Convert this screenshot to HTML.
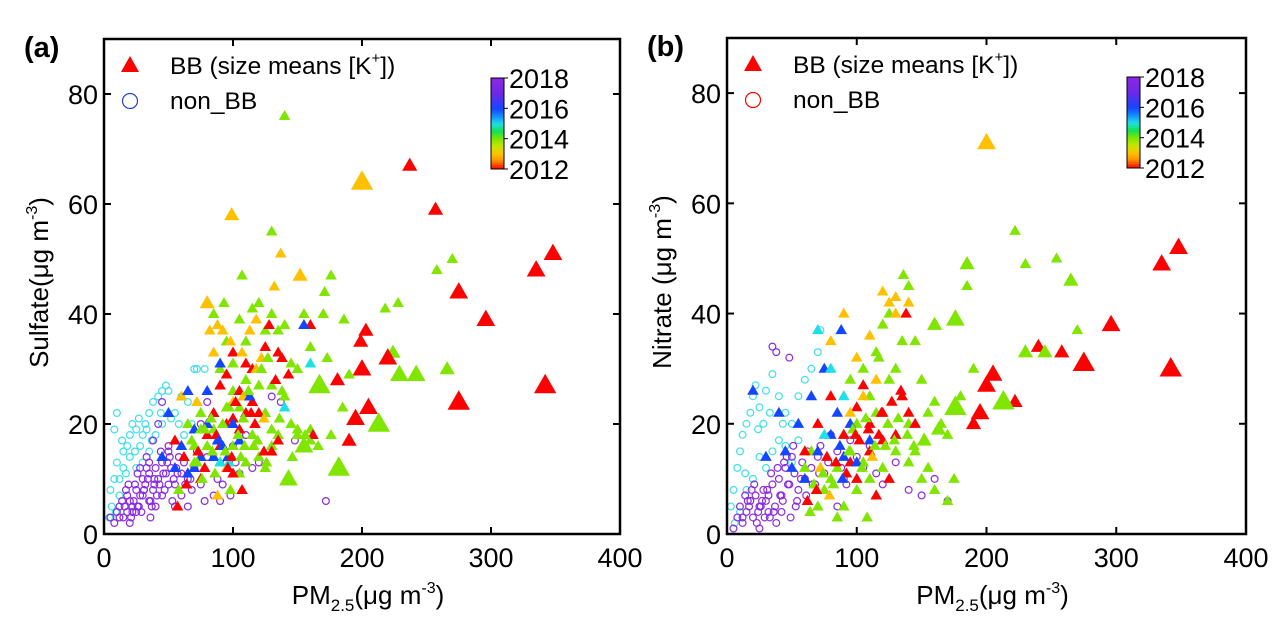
<!DOCTYPE html>
<html><head><meta charset="utf-8"><style>
body{margin:0;background:#fff;}
svg{display:block;font-family:"Liberation Sans",Arial,sans-serif;}
</style></head><body>
<svg id="chart" width="1282" height="633" viewBox="0 0 1282 633"></svg>
<script>
// ---- Panel (a) data: Sulfate vs PM2.5 ----
const aBBx=[200,237,257,335,348,275,296,342,275,205,195,190,213,182,143,155,167,229,242,266,258,270,224,220,203,199,200,181,140,99,130,137,152,132,107,171,176,218,228,186,80,93,
85,95,100,105,110,115,120,125,130,135,140,145,150,155,160,165,170,90,100,110,120,125,130,140,150,160,105,95,85,75,70,65,80,90,100,110,115,120,130,135,145,150,160,98,105,125,190,185,173,60,70,75,55,
100,110,115,125,128,135,138,143,90,95,105,110,115,120,95,100,105,110,85,80,75,90,100,107,130,135,162,160,57,65,88,124,
82,88,92,98,107,113,118,122,118,85,72,60,100,108,95,113,155,
50,65,80,90,60,70,75,80,88,92,96,100,105,45,55,70,85,90,97,
140,160,75,130,
62,68,73,78,83,87,92,97,102,108,112,117,122,127,133,138,65,72,78,84,89,94,99,104,109,114,119,124,58,64,76,86,96,106,116,126,136,146,156,166,176];
const aBBy=[64,67,59,48,51,44,39,27,24,23,21,17,20,12,10,16,27,29,29,30,48,50,33,32,37,35,30,28,76,58,55,51,47,45,47,44,47,41,42,39,42,42,
40,35,31,39,35,41,42,37,40,37,38,31,30,40,34,27,40,30,26,28,27,22,19,25,19,17,23,23,19,22,16,20,16,13,16,13,18,14,16,18,20,18,19,8,11,12,29,23,32,16,13,10,17,
33,31,30,34,38,33,32,29,27,29,26,25,24,22,20,21,19,22,22,18,14,16,11,8,15,17,18,38,5,11,7,21,
37,38,37,35,33,37,39,32,30,33,24,25,24,25,12,25,38,
22,26,26,31,16,19,14,20,17,16,14,20,17,14,12,12,14,13,13,
23,31,19,27,
14,17,15,19,21,18,20,23,24,21,26,20,30,32,28,26,11,13,12,15,17,15,14,18,16,22,17,15,8,9,10,11,12,14,16,13,21,14,18,16,18];
const aBByr=[2013,2012,2012,2012,2012,2012,2012,2012,2012,2012,2012,2012,2014,2014,2014,2014,2014,2014,2014,2014,2014,2014,2014,2012,2012,2012,2012,2012,2014,2013,2014,2013,2013,2013,2014,2014,2014,2014,2014,2014,2013,2014,
2014,2014,2014,2014,2014,2014,2014,2014,2014,2014,2014,2014,2014,2014,2014,2014,2014,2014,2014,2014,2014,2014,2014,2014,2014,2014,2014,2014,2014,2014,2014,2014,2014,2014,2014,2014,2014,2014,2014,2014,2014,2014,2014,2014,2014,2014,2014,2014,2014,2014,2014,
2012,2012,2012,2012,2012,2012,2012,2012,2012,2012,2012,2012,2012,2012,2012,2012,2012,2012,2012,2012,2012,2012,2012,2012,2012,2012,2012,2012,2012,2012,2012,2012,
2013,2013,2013,2013,2013,2013,2013,2013,2013,2013,2013,2013,2013,2013,2013,2013,2013,
2016,2016,2016,2016,2016,2016,2016,2016,2016,2016,2016,2016,2016,2016,2016,2016,2016,2016,2016,
2015,2015,2015,2015,
2014,2014,2012,2014,2012,2014,2014,2012,2014,2014,2012,2014,2014,2012,2014,2014,2012,2014,2016,2014,2012,2014,2016,2014,2012,2014,2014,2012,2014,2012,2014,2012,2014,2014,2012,2014,2014,2014,2014,2014,2014];
const aBBk=[4,2,2,3,3,3,3,4,4,3,3,2,4,4,3,3,4,3,3,2,1,1,2,3,2,2,3,2,1,2,1,1,2,1,1,1,1,1,1,1,2,1];
const aNBx=[8,10,5,8,10,12,15,18,20,22,25,28,30,32,35,38,42,45,48,50,15,12,20,25,30,35,40,45,55,60,65,70,72,78,58,62,68,6,4,9,14,17,24,27,33,37,44,52,
5,8,10,12,15,18,20,22,25,28,30,32,35,38,40,42,45,48,50,52,55,58,60,62,65,68,70,72,75,78,80,85,88,90,95,100,105,110,115,120,130,137,148,172,25,20,35,40,45,50,55,28,33,38,42,45,36,60,65,75,80,92,98,102,
14,17,22,24,27,30,33,36,39,43,47,51,54,57,12,16,19,23,26,29,31,34,37,41,44,49,53,18,21,26,31,35,39,46,50,56,63,67,71];
const aNBy=[19,22,8,10,13,10,15,16,18,20,19,16,18,20,22,24,25,26,27,26,12,7,14,12,13,15,18,20,22,25,24,30,30,30,20,18,20,5,3,4,17,11,15,21,19,17,22,21,
3,2,4,5,3,4,6,5,8,7,10,9,11,8,12,10,13,11,15,12,9,14,11,13,10,8,12,15,9,6,14,7,10,6,13,16,11,18,12,13,25,24,17,6,4,2,6,5,7,9,5,12,14,17,20,24,3,7,5,20,24,9,7,13,
6,8,4,9,5,7,12,6,10,9,8,14,10,11,3,5,9,6,11,4,8,10,5,7,15,13,6,7,3,5,8,13,9,11,16,12,9,10];
const aNByr=[2015,2015,2015,2015,2015,2015,2015,2015,2015,2015,2015,2015,2015,2015,2015,2015,2015,2015,2015,2015,2015,2015,2015,2015,2015,2015,2015,2015,2015,2015,2015,2015,2015,2015,2015,2015,2015,2015,2015,2015,2015,2015,2015,2015,2015,2015,2015,2015];

// ---- Panel (b) data: Nitrate vs PM2.5 ----
const bBBx=[200,348,335,296,342,275,240,258,222,205,200,195,190,213,176,222,254,265,230,185,176,270,245,230,160,163,152,140,136,130,117,
85,90,95,100,105,110,115,120,125,130,135,140,145,150,155,160,165,170,180,185,190,100,110,120,130,140,150,160,170,95,105,115,125,135,145,155,80,70,75,90,60,65,175,108,85,
60,70,80,90,100,110,120,130,135,140,145,100,110,120,95,115,125,105,138,
80,90,100,110,120,125,130,105,95,115,140,
20,40,55,65,75,88,50,60,70,80,90,100,110,85,95,45,30,
70,80,75,90,
62,67,72,77,82,87,92,97,102,107,112,117,122,127,132,64,69,74,79,84,89,94,99,104,109,114,119,124,129,134,139,144];
const bBBy=[71,52,49,38,30,31,34,33,24,29,27,22,20,24,23,55,50,46,49,49,39,37,33,33,38,19,17,45,47,43,32,
12,18,15,20,13,25,22,38,40,30,35,20,35,28,22,24,20,18,25,45,30,8,10,12,15,13,10,8,6,28,30,33,28,25,15,12,10,5,8,5,12,15,10,3,3,
15,20,25,18,23,20,22,18,25,22,20,10,15,17,13,7,10,27,40,
35,40,32,36,44,42,40,25,22,28,42,
26,22,20,25,30,37,12,10,15,18,14,13,17,22,20,15,14,
37,30,18,25,
6,9,12,14,9,16,11,19,17,21,14,18,16,24,21,4,8,11,7,13,10,15,18,12,19,16,22,20,17,26,18,16];
const bBByr=[2013,2012,2012,2012,2012,2012,2012,2012,2012,2012,2012,2012,2012,2014,2014,2014,2014,2014,2014,2014,2014,2014,2014,2014,2014,2014,2014,2014,2014,2013,2014,
2014,2014,2014,2014,2014,2014,2014,2014,2014,2014,2014,2014,2014,2014,2014,2014,2014,2014,2014,2014,2014,2014,2014,2014,2014,2014,2014,2014,2014,2014,2014,2014,2014,2014,2014,2014,2014,2014,2014,2014,2014,2014,2014,2014,2014,
2012,2012,2012,2012,2012,2012,2012,2012,2012,2012,2012,2012,2012,2012,2012,2012,2012,2012,2012,
2013,2013,2013,2013,2013,2013,2013,2013,2013,2013,2013,
2016,2016,2016,2016,2016,2016,2016,2016,2016,2016,2016,2016,2016,2016,2016,2016,2016,
2015,2015,2015,2015,
2012,2014,2013,2012,2014,2016,2012,2014,2012,2014,2013,2012,2014,2012,2014,2014,2012,2014,2013,2012,2016,2014,2012,2014,2012,2014,2012,2014,2014,2012,2014,2014];
const bBBk=[3,3,3,3,4,4,2,2,2,3,3,3,2,4,4,1,1,2,1,2,3,1,2,2,2,2,2,1,1,1,1];
const bNBx=[5,8,10,12,15,18,20,22,25,28,30,35,40,45,50,55,60,65,70,72,10,15,20,25,30,35,40,45,50,55,6,3,14,24,33,43,
5,8,10,12,15,18,20,22,25,28,30,32,35,38,40,42,45,48,50,52,55,58,60,62,65,68,70,72,75,78,80,85,88,90,95,100,105,110,115,120,130,140,150,160,170,35,38,48,25,33,42,85,92,
14,17,21,24,27,31,34,37,41,44,47,51,54,57,12,16,19,23,26,29,32,36,39,43,46,49,53,61,66,71];
const bNBy=[8,12,15,18,20,22,25,27,23,20,26,29,25,22,20,25,28,30,33,37,4,8,10,14,12,15,17,16,13,17,2,5,11,19,22,20,
1,3,5,2,4,6,3,7,5,8,6,4,9,2,10,7,12,9,14,11,8,13,10,15,12,9,14,16,11,13,18,15,12,10,17,14,12,16,11,9,13,8,7,10,6,34,33,32,1,3,4,5,9,
7,5,9,4,6,8,11,5,7,13,9,16,6,10,3,6,8,2,5,3,7,4,12,6,14,3,5,7,9,11];
const bNByr=[2015,2015,2015,2015,2015,2015,2015,2015,2015,2015,2015,2015,2015,2015,2015,2015,2015,2015,2015,2015,2015,2015,2015,2015,2015,2015,2015,2015,2015,2015,2015,2015,2015,2015,2015,2015];

const xTicks=[0,100,200,300,400];
const yTicks=[0,20,40,60,80];
const cbTicks=[2012,2014,2016,2018];

const NS="http://www.w3.org/2000/svg";
const svg=document.getElementById('chart');
function mk(tag,attrs,parent){const e=document.createElementNS(NS,tag);for(const k in attrs)e.setAttribute(k,attrs[k]);(parent||svg).appendChild(e);return e;}

function yearColor(y){
  const stops=[[2012,[255,0,0]],[2012.6,[255,150,0]],[2013,[255,192,0]],[2013.5,[200,230,0]],[2014,[128,230,0]],[2014.5,[20,225,80]],[2015,[30,225,230]],[2015.5,[20,140,255]],[2016,[20,70,255]],[2017,[110,40,230]],[2018,[140,40,230]]];
  if(y<=2012)return 'rgb(255,0,0)';
  for(let i=1;i<stops.length;i++){if(y<=stops[i][0]){const a=stops[i-1],b=stops[i];const f=(y-a[0])/(b[0]-a[0]);const c=a[1].map((v,j)=>Math.round(v+(b[1][j]-v)*f));return `rgb(${c})`;}}
  return 'rgb(140,40,230)';
}

function panel(opt){
  const L=opt.L,R=opt.R,T=opt.T,B=opt.B;
  const sx=v=>L+(v/400)*(R-L);
  const sy=v=>B-(v/90)*(B-T);
  const g=mk('g',{});
  
  
  const defs=mk('defs',{},g);
  const cp=mk('clipPath',{id:'clip-'+opt.id},defs);
  mk('rect',{x:L,y:T,width:R-L,height:B-T},cp);
  const ng=mk('g',{'clip-path':`url(#clip-${opt.id})`},g);
  
  
  const nn=Math.min(opt.nbx.length,opt.nby.length);
  for(let i=0;i<nn;i++){
    const yr=i<opt.nbyr.length?opt.nbyr[i]:2017;
    const c=mk('circle',{cx:sx(opt.nbx[i]),cy:sy(opt.nby[i]),r:3.4,fill:'none',stroke:yr===2015?'#3fe0e8':'#8a2be2','stroke-width':1.2},ng);
    
    
  }
  const bg=mk('g',{'clip-path':`url(#clip-${opt.id})`},g);
  
  
  const nb=Math.min(opt.bbx.length,opt.bby.length);
  for(let i=0;i<nb;i++){
    const k=i<opt.bbk.length?opt.bbk[i]:1;
    const yr=i<opt.bbyr.length?opt.bbyr[i]:2014;
    const s=8+3.6*k;
    const cx=sx(opt.bbx[i]),cy=sy(opt.bby[i]);
    const h=s*0.87;
    const p=mk('polygon',{points:`${cx},${cy-h*0.6} ${cx-s/2},${cy+h*0.4} ${cx+s/2},${cy+h*0.4}`,fill:yearColor(yr)},bg);
    
    
  }
  const fr=mk('rect',{x:L,y:T,width:R-L,height:B-T,fill:'none',stroke:'#000','stroke-width':2.5},g);
  
  
  for(const v of xTicks){
    const x=sx(v);
    mk('line',{x1:x,y1:B,x2:x,y2:B-7,stroke:'#000','stroke-width':2},g);
    mk('line',{x1:x,y1:T,x2:x,y2:T+7,stroke:'#000','stroke-width':2},g);
    const t=mk('text',{x:x,y:B+33,'text-anchor':'middle','font-size':27},g);t.textContent=v;
    
    
  }
  for(const v of yTicks){
    const y=sy(v);
    mk('line',{x1:L,y1:y,x2:L+7,y2:y,stroke:'#000','stroke-width':2},g);
    mk('line',{x1:R,y1:y,x2:R-7,y2:y,stroke:'#000','stroke-width':2},g);
    const t=mk('text',{x:L-6,y:y+10,'text-anchor':'end','font-size':27},g);t.textContent=v;
    
    
  }
  const pl=mk('text',{x:L-80,y:T+18,'font-size':29,'font-weight':'bold'},g);pl.textContent=opt.letter;
  
  
  const xt=mk('text',{x:(L+R)/2+6,y:B+70,'text-anchor':'middle','font-size':26},g);
  xt.innerHTML='PM<tspan font-size="17" dy="7">2.5</tspan><tspan dy="-7">(μg m</tspan><tspan font-size="16" dy="-11">-3</tspan><tspan dy="11">)</tspan>';
  
  
  const yt=mk('text',{x:0,y:0,'text-anchor':'middle','font-size':26,transform:`translate(${L-56},${(T+B)/2-4}) rotate(-90)`},g);
  yt.innerHTML=opt.ytitle+'(μg m<tspan font-size="16" dy="-11">-3</tspan><tspan dy="11">)</tspan>';
  
  
  const lg=mk('g',{},g);
  
  
  const lx=L+26;
  mk('polygon',{points:`${lx},${T+17} ${lx-9},${T+33} ${lx+9},${T+33}`,fill:'#f00'},lg);
  const l1=mk('text',{x:L+66,y:T+35,'font-size':24.5},lg);
  l1.innerHTML='BB (size means [K<tspan font-size="15" dy="-11">+</tspan><tspan dy="11">])</tspan>';
  
  
  mk('circle',{cx:lx,cy:T+62,r:7.5,fill:'none',stroke:opt.nbLegColor,'stroke-width':1.2},lg);
  const l2=mk('text',{x:L+66,y:T+70,'font-size':24.5},lg);l2.textContent='non_BB';
  
  
  const cb=mk('g',{},g);
  
  
  const cx0=opt.cbx,cyT=T+39,cyB=T+130,n=40;
  for(let i=0;i<n;i++){
    const yr=2012+6*(i+0.5)/n;
    mk('rect',{x:cx0,y:cyB-(i+1)*(cyB-cyT)/n,width:13,height:(cyB-cyT)/n+0.5,fill:yearColor(yr)},cb);
  }
  mk('rect',{x:cx0,y:cyT,width:13,height:cyB-cyT,fill:'none',stroke:'#000','stroke-width':1},cb);
  for(const v of cbTicks){
    const y=cyB-(v-2012)/6*(cyB-cyT);
    mk('line',{x1:cx0+13,y1:y,x2:cx0+17,y2:y,stroke:'#000','stroke-width':1},cb);
    const t=mk('text',{x:cx0+18,y:y+10,'font-size':27},cb);t.textContent=v;
    
    
  }
}
panel({id:'sulfate',letter:'(a)',L:104,R:620,T:39,B:534,ytitle:'Sulfate',nbLegColor:'#2040e0',cbx:491,
  bbx:aBBx,bby:aBBy,bbyr:aBByr,bbk:aBBk,nbx:aNBx,nby:aNBy,nbyr:aNByr});
panel({id:'nitrate',letter:'(b)',L:727,R:1246,T:38,B:534,ytitle:'Nitrate ',nbLegColor:'#f00',cbx:1127,
  bbx:bBBx,bby:bBBy,bbyr:bBByr,bbk:bBBk,nbx:bNBx,nby:bNBy,nbyr:bNByr});
</script>
</body></html>
